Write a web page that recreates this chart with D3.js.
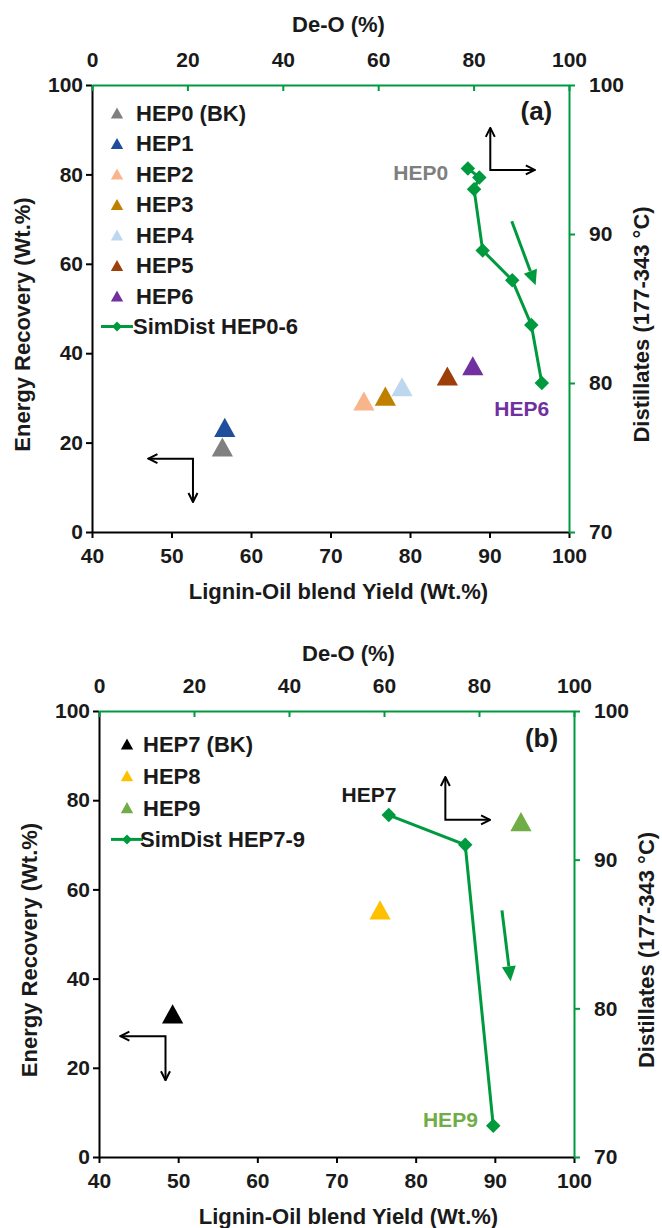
<!DOCTYPE html>
<html lang="en">
<head>
<meta charset="UTF-8">
<title>Energy recovery vs lignin-oil blend yield</title>
<script src="https://cdn.jsdelivr.net/npm/d3@7"></script>
<style>
  body { margin: 0; background: #fff; }
  svg text { font-family: "Liberation Sans", Arial, sans-serif; font-weight: bold; fill: #1a1a1a; }
</style>
</head>
<body>
<svg id="chart" width="662" height="1228"></svg>
<script>
// ---- values ----
const yieldTicks = [40, 50, 60, 70, 80, 90, 100];
const energyTicks = [0, 20, 40, 60, 80, 100];
const deoTicks = [0, 20, 40, 60, 80, 100];
const distTicks = [70, 80, 90, 100];

// panel (a)
const samplesA = ["HEP0 (BK)", "HEP1", "HEP2", "HEP3", "HEP4", "HEP5", "HEP6"];
const yieldA = [56.4, 56.7, 74.2, 76.9, 79.0, 84.7, 87.9];
const energyA = [19.0, 23.4, 29.3, 30.4, 32.5, 34.9, 37.2];
const deoA = [78.8, 81.2, 80.1, 81.9, 88.1, 92.1, 94.3];
const distA = [94.4, 93.8, 93.0, 88.9, 86.9, 83.9, 80.0];

// panel (b)
const samplesB = ["HEP7 (BK)", "HEP8", "HEP9"];
const yieldB = [49.3, 75.5, 93.3];
const energyB = [32.1, 55.4, 75.2];
const deoB = [61.0, 77.1, 83.0];
const distB = [93.0, 91.0, 72.1];

const colorsA = ["#808080", "#1f4e9c", "#f9b48c", "#bf8000", "#bdd7ee", "#9c3f08", "#7030a0"];
const colorsB = ["#000000", "#ffc000", "#70ad47"];
const green = "#009a3e";

const panels = [
  {
    left: 92, right: 569, top: 85, bottom: 532, titleShift: 8, topTitle: 61,
    tag: "(a)", tagPos: [95.9, 94.3],
    samples: samplesA, yields: yieldA, energy: energyA, deo: deoA, dist: distA, colors: colorsA,
    simName: "SimDist HEP0-6",
    legend: { x: 117, y: 113, step: 30.5, text: 136 },
    labels: [
      { text: "HEP0", at: [84.8, 80.5], anchor: "end", color: "#7f7f7f" },
      { text: "HEP6", at: [90.6, 27.6], anchor: "start", color: "#7030a0" }
    ],
    corners: [
      { corner: [90.1, 81.0], horiz: 95.7, vert: 90.4 },
      { corner: [52.7, 16.4], horiz: 47.1, vert: 6.7 }
    ],
    trend: { from: [92.8, 69.5], to: [95.8, 55.2] }
  },
  {
    left: 99, right: 574, top: 711, bottom: 1157, titleShift: 12, topTitle: 58,
    tag: "(b)", tagPos: [95.9, 94.0],
    samples: samplesB, yields: yieldB, energy: energyB, deo: deoB, dist: distB, colors: colorsB,
    simName: "SimDist HEP7-9",
    legend: { x: 127, y: 744, step: 31.8, text: 143 },
    labels: [
      { text: "HEP7", at: [74.1, 81.3], anchor: "middle", color: "#1a1a1a" },
      { text: "HEP9", at: [87.85, 8.4], anchor: "end", color: "#70ad47" }
    ],
    corners: [
      { corner: [83.75, 75.6], horiz: 89.4, vert: 85.2 },
      { corner: [48.4, 27.1], horiz: 42.7, vert: 17.2 }
    ],
    trend: { from: [90.9, 55.3], to: [92.0, 39.4] }
  }
];

const svg = d3.select("#chart");

// open arrow head for the black axis-direction hints
svg.append("defs").append("marker")
  .attr("id", "open")
  .attr("viewBox", "0 0 12 12")
  .attr("refX", 11).attr("refY", 6)
  .attr("markerWidth", 12).attr("markerHeight", 12)
  .attr("markerUnits", "userSpaceOnUse")
  .attr("orient", "auto-start-reverse")
  .append("path")
  .attr("d", "M2,1.5L11,6L2,10.5")
  .attr("fill", "none")
  .attr("stroke", "#000")
  .attr("stroke-width", 2);

// triangle centred on its bounding box (Excel style marker)
const triangleBox = {
  draw(ctx, size) {
    const w = Math.sqrt(size * 4 / Math.sqrt(3));
    const h = w * 0.9;
    ctx.moveTo(0, -h / 2);
    ctx.lineTo(w / 2, h / 2);
    ctx.lineTo(-w / 2, h / 2);
    ctx.closePath();
  }
};

function styleAxis(sel, color) {
  sel.attr("font-size", 21);
  sel.selectAll("path.domain").attr("stroke", color).attr("stroke-width", 2);
  sel.selectAll(".tick line").attr("stroke", color).attr("stroke-width", 2);
}

panels.forEach(p => {
  const x = d3.scaleLinear().domain([40, 100]).range([p.left, p.right]);
  const y = d3.scaleLinear().domain([0, 100]).range([p.bottom, p.top]);
  const x2 = d3.scaleLinear().domain([0, 100]).range([p.left, p.right]);
  const y2 = d3.scaleLinear().domain([70, 100]).range([p.bottom, p.top]);
  const g = svg.append("g");
  const midX = (p.left + p.right) / 2 + p.titleShift;
  const midY = (p.top + p.bottom) / 2 + 16;

  // primary axes (black)
  g.append("g")
    .attr("transform", `translate(0,${p.bottom})`)
    .call(d3.axisBottom(x).tickValues(yieldTicks).tickSize(6).tickSizeOuter(0).tickPadding(10))
    .call(s => styleAxis(s, "#000"));

  g.append("g")
    .attr("transform", `translate(${p.left},0)`)
    .call(d3.axisLeft(y).tickValues(energyTicks).tickSize(6).tickSizeOuter(0).tickPadding(3))
    .call(s => styleAxis(s, "#000"));

  // secondary axes (green)
  g.append("g")
    .attr("transform", `translate(0,${p.top})`)
    .call(d3.axisTop(x2).tickValues(deoTicks).tickSizeInner(-6).tickSizeOuter(0).tickPadding(18))
    .call(s => styleAxis(s, green));

  g.append("g")
    .attr("transform", `translate(${p.right},0)`)
    .call(d3.axisRight(y2).tickValues(distTicks).tickSize(6).tickSizeOuter(0).tickPadding(14))
    .call(s => styleAxis(s, green));

  // axis titles
  g.append("text").attr("x", midX).attr("y", p.bottom + 59).attr("dy", "0.35em")
    .attr("text-anchor", "middle").attr("font-size", 22).text("Lignin-Oil blend Yield (Wt.%)");
  g.append("text").attr("x", midX).attr("y", p.top - p.topTitle).attr("dy", "0.35em")
    .attr("text-anchor", "middle").attr("font-size", 22).text("De-O (%)");
  g.append("text").attr("transform", `translate(${p.left - 70},${midY}) rotate(-90)`).attr("dy", "0.35em")
    .attr("text-anchor", "middle").attr("font-size", 22).text("Energy Recovery (Wt.%)");
  g.append("text").attr("transform", `translate(${p.right + 72},${midY}) rotate(-90)`).attr("dy", "0.35em")
    .attr("text-anchor", "middle").attr("font-size", 22).text("Distillates (177-343 °C)");

  // SimDist line on the secondary axes
  const simPts = p.deo.map((d, i) => [d, p.dist[i]]);
  g.append("path")
    .datum(simPts)
    .attr("fill", "none")
    .attr("stroke", green)
    .attr("stroke-width", 3)
    .attr("d", d3.line().x(d => x2(d[0])).y(d => y2(d[1])));

  g.selectAll(".dia")
    .data(simPts)
    .enter()
    .append("path")
    .attr("transform", d => `translate(${x2(d[0])},${y2(d[1])}) rotate(45)`)
    .attr("d", d3.symbol(d3.symbolSquare, 105))
    .attr("fill", green);

  // sample triangles on the primary axes
  g.selectAll(".tri")
    .data(p.samples)
    .enter()
    .append("path")
    .attr("transform", (d, i) => `translate(${x(p.yields[i])},${y(p.energy[i])})`)
    .attr("d", d3.symbol(triangleBox, 195))
    .attr("fill", (d, i) => p.colors[i]);

  // legend
  const leg = g.selectAll(".leg")
    .data(p.samples)
    .enter()
    .append("g")
    .attr("transform", (d, i) => `translate(0,${p.legend.y + i * p.legend.step})`);
  leg.append("path")
    .attr("transform", `translate(${p.legend.x},0)`)
    .attr("d", d3.symbol(triangleBox, 66))
    .attr("fill", (d, i) => p.colors[i]);
  leg.append("text")
    .attr("x", p.legend.text).attr("dy", "0.36em")
    .attr("font-size", 22)
    .text(d => d);

  const simY = p.legend.y + p.samples.length * p.legend.step;
  g.append("line")
    .attr("x1", p.legend.x - 16).attr("x2", p.legend.x + 16)
    .attr("y1", simY).attr("y2", simY)
    .attr("stroke", green).attr("stroke-width", 3);
  g.append("path")
    .attr("transform", `translate(${p.legend.x},${simY}) rotate(45)`)
    .attr("d", d3.symbol(d3.symbolSquare, 50))
    .attr("fill", green);
  g.append("text")
    .attr("x", p.legend.text - 3).attr("y", simY).attr("dy", "0.36em")
    .attr("font-size", 22)
    .text(p.simName);

  // panel tag and point labels
  g.append("text")
    .attr("x", x(p.tagPos[0])).attr("y", y(p.tagPos[1])).attr("dy", "0.36em")
    .attr("text-anchor", "middle").attr("font-size", 26)
    .text(p.tag);

  p.labels.forEach(l => {
    g.append("text")
      .attr("x", x(l.at[0])).attr("y", y(l.at[1])).attr("dy", "0.36em")
      .attr("text-anchor", l.anchor).attr("font-size", 21)
      .style("fill", l.color)
      .text(l.text);
  });

  // L-shaped arrows telling which axes each series uses
  p.corners.forEach(c => {
    const cx = x(c.corner[0]), cy = y(c.corner[1]);
    g.append("path")
      .attr("d", `M${cx},${y(c.vert)}L${cx},${cy}L${x(c.horiz)},${cy}`)
      .attr("fill", "none")
      .attr("stroke", "#000")
      .attr("stroke-width", 2)
      .attr("marker-start", "url(#open)")
      .attr("marker-end", "url(#open)");
  });

  // green trend arrow
  const fx = x(p.trend.from[0]), fy = y(p.trend.from[1]);
  const tx = x(p.trend.to[0]), ty = y(p.trend.to[1]);
  const ang = Math.atan2(ty - fy, tx - fx);
  const headLen = 15, headHalf = 7;
  const bx = tx - headLen * Math.cos(ang), by = ty - headLen * Math.sin(ang);
  g.append("line")
    .attr("x1", fx).attr("y1", fy).attr("x2", bx).attr("y2", by)
    .attr("stroke", green).attr("stroke-width", 3);
  g.append("path")
    .attr("d", `M${tx},${ty}L${bx + headHalf * Math.sin(ang)},${by - headHalf * Math.cos(ang)}L${bx - headHalf * Math.sin(ang)},${by + headHalf * Math.cos(ang)}Z`)
    .attr("fill", green);
});
</script>
</body>
</html>
